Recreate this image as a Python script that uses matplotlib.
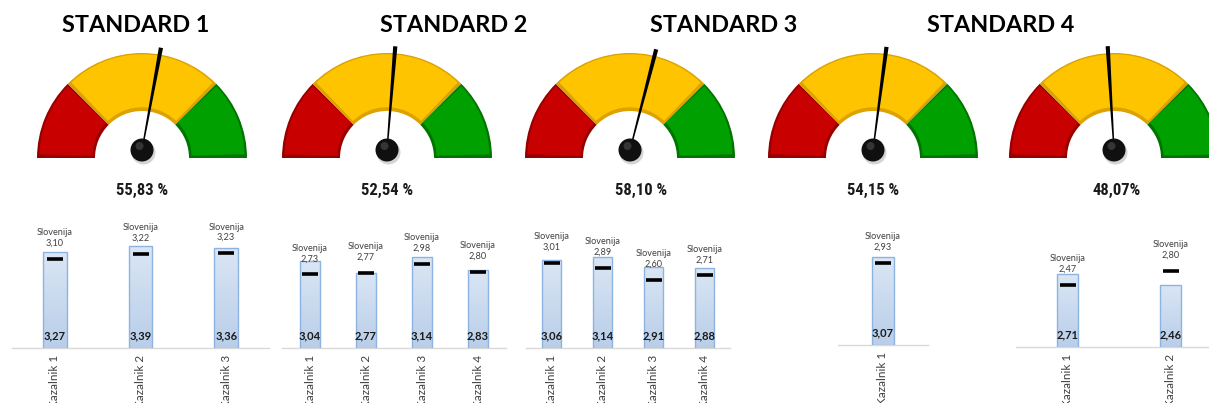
import numpy as np
import matplotlib
matplotlib.use("Agg")
import matplotlib.pyplot as plt
from matplotlib.patches import Wedge, Polygon, Circle
from matplotlib.colors import LinearSegmentedColormap
from matplotlib import font_manager as fm

# ---------------- data ----------------
standard_titles = ["STANDARD 1", "STANDARD 2", "STANDARD 3", "STANDARD 4"]
gauge_values = [55.83, 52.54, 58.10, 54.15, 48.07]
gauge_labels = ["55,83 %", "52,54 %", "58,10 %", "54,15 %", "48,07%"]

cats_1 = ["Kazalnik 1", "Kazalnik 2", "Kazalnik 3"]
school_1 = [3.27, 3.39, 3.36]
slo_1 = [3.10, 3.22, 3.23]

cats_2 = ["Kazalnik 1", "Kazalnik 2", "Kazalnik 3", "Kazalnik 4"]
school_2 = [3.04, 2.77, 3.14, 2.83]
slo_2 = [2.73, 2.77, 2.98, 2.80]

cats_3 = ["Kazalnik 1", "Kazalnik 2", "Kazalnik 3", "Kazalnik 4"]
school_3 = [3.06, 3.14, 2.91, 2.88]
slo_3 = [3.01, 2.89, 2.60, 2.71]

cats_4 = ["Kazalnik 1"]
school_4 = [3.07]
slo_4 = [2.93]

cats_5 = ["Kazalnik 1", "Kazalnik 2"]
school_5 = [2.71, 2.46]
slo_5 = [2.47, 2.80]

# ---------------- fonts ----------------
bold_fams = {f.name for f in fm.fontManager.ttflist
             if (isinstance(f.weight, int) and f.weight >= 700) or f.weight == "bold"}
narrow_name = next((n for n in ["Liberation Sans Narrow", "Roboto Condensed",
                                "Asap Condensed", "Barlow Semi Condensed",
                                "Liberation Sans"] if n in bold_fams), "DejaVu Sans")
narrow = [narrow_name, "DejaVu Sans"]
calibri = ["Lato", "DejaVu Sans"]

W, H = 1209, 403
fig = plt.figure(figsize=(W / 100, H / 100), dpi=100)
fig.patch.set_facecolor("white")

def fmt(v):
    return f"{v:.2f}".replace(".", ",")

# ---------------- gauges (pixel overlay) ----------------
gax = fig.add_axes([0, 0, 1, 1])
gax.set_xlim(0, W)
gax.set_ylim(0, H)
gax.axis("off")

gauge_cx = [142, 387, 630, 873, 1114]
base_y = H - 158
pivot_y = H - 150
r_out, r_in = 105, 47
segments = [  # (theta1, theta2, main, dark)
    (135, 180, "#c80000", "#960000"),
    (45, 135, "#ffc400", "#dca200"),
    (0, 45, "#00a000", "#007400"),
]
for cx in gauge_cx:
    for t1, t2, main, dark in segments:
        gax.add_patch(Wedge((cx, base_y), r_out, t1, t2, width=r_out - r_in,
                            facecolor=dark, edgecolor="none", zorder=2))
        gax.add_patch(Wedge((cx, base_y + 1.2), r_out - 2.5, t1 + 1.4, t2 - 1.4,
                            width=r_out - r_in - 5, facecolor=main,
                            edgecolor="none", zorder=3))

for cx, val in zip(gauge_cx, gauge_values):
    ang = np.deg2rad(180 - val / 100 * 180)
    L = 104
    ux, uy = np.cos(ang), np.sin(ang)
    px, py = -uy, ux
    wb, wt = 0.6, 2.1
    pts = [(cx + px * wb, pivot_y + py * wb),
           (cx + ux * L + px * wt, pivot_y + uy * L + py * wt),
           (cx + ux * L - px * wt, pivot_y + uy * L - py * wt),
           (cx - px * wb, pivot_y - py * wb)]
    gax.add_patch(Polygon(pts, closed=True, facecolor="black", edgecolor="none", zorder=5))
    gax.add_patch(Circle((cx + 1.5, pivot_y - 2.5), 12, facecolor="#777777",
                         alpha=0.3, edgecolor="none", zorder=5))
    gax.add_patch(Circle((cx, pivot_y), 11.5, facecolor="#101010", edgecolor="none", zorder=6))
    gax.add_patch(Circle((cx - 2.5, pivot_y + 4), 4, facecolor="#5a5a5a",
                         alpha=0.5, edgecolor="none", zorder=7))

label_x = [142, 387, 641, 873, 1117]
for x, lab in zip(label_x, gauge_labels):
    gax.text(x, H - 190, lab, ha="center", va="center", fontsize=12,
             fontweight="bold", family=narrow, color="#1a1a1a")

title_x = [136, 454, 724, 1001]
for x, t in zip(title_x, standard_titles):
    gax.text(x, H - 25, t, ha="center", va="center", fontsize=16.8,
             fontweight="bold", family=calibri, color="black")

# ---------------- bar charts ----------------
SCALE = 42.5  # px per unit
charts = [
    (cats_1, school_1, slo_1, 12, 269, 348, 0.28),
    (cats_2, school_2, slo_2, 282, 506, 348, 0.36),
    (cats_3, school_3, slo_3, 526, 730, 348, 0.39),
    (cats_4, school_4, slo_4, 838, 928, 345, 0.245),
    (cats_5, school_5, slo_5, 1016, 1222, 347, 0.20),
]
grad = np.linspace(0, 1, 100).reshape(-1, 1)
cmap = LinearSegmentedColormap.from_list("bar", ["#b9cee9", "#dae6f4"])

top_px = 200
for cats, school, slo, x0, x1, yb, bw in charts:
    ax = fig.add_axes([x0 / W, (H - yb) / H, (x1 - x0) / W, (yb - top_px) / H])
    ax.set_zorder(10)
    ax.patch.set_alpha(0)
    ymax = 1 + (yb - top_px) / SCALE
    xs = np.arange(len(cats))
    bars = ax.bar(xs, np.array(school) - 1, bottom=1, width=bw,
                  facecolor="none", edgecolor="#8db3e2", linewidth=1, zorder=3)
    for b in bars:
        im = ax.imshow(grad, extent=[b.get_x(), b.get_x() + b.get_width(), 1, b.get_y() + b.get_height()],
                       origin="lower", aspect="auto", cmap=cmap, zorder=2)
        im.set_clip_path(b)
    ax.plot(xs, slo, linestyle="none", marker="_", markersize=12,
            markeredgewidth=2.6, color="black", zorder=4)
    for x, s, v in zip(xs, school, slo):
        ax.annotate(fmt(s), (x, 1), xytext=(0, 4.5), textcoords="offset points",
                    ha="center", va="bottom", fontsize=8,
                    fontweight="bold", family=calibri, color="#1a1a1a", zorder=5)
        ax.annotate("Slovenija\n" + fmt(v), (x, v), xytext=(0, 8),
                    textcoords="offset points", ha="center", va="bottom",
                    fontsize=6.6, family=calibri,
                    color="#404040", linespacing=1.2, zorder=5)
    ax.set_xlim(-0.5, len(cats) - 0.5)
    ax.set_ylim(1, ymax)
    ax.set_xticks(xs)
    ax.set_xticklabels(cats, rotation=90, fontsize=8.5,
                       color="#404040", family=calibri, va="top")
    ax.tick_params(axis="x", length=0, pad=5)
    ax.set_yticks([])
    for sp in ["top", "right", "left"]:
        ax.spines[sp].set_visible(False)
    ax.spines["bottom"].set_color("#d9d9d9")
    ax.spines["bottom"].set_linewidth(1)

fig.savefig("out.png", dpi=100, facecolor="white")
